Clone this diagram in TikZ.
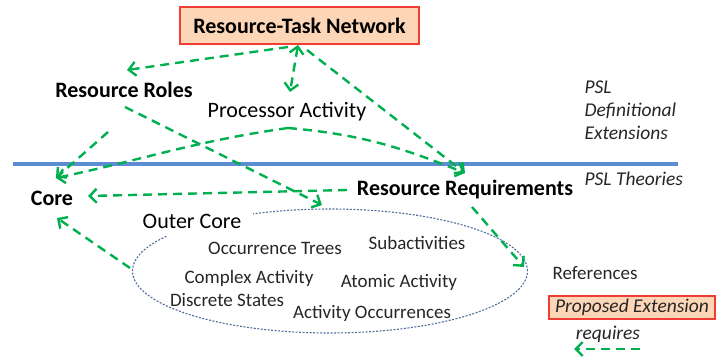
\documentclass[tikz,border=0pt]{standalone}
\usepackage{fontspec}
\setmainfont{Carlito}
\usetikzlibrary{arrows.meta, positioning, shapes.geometric, calc}

\definecolor{reqgreen}{RGB}{0,176,80}
\definecolor{thyblue}{RGB}{92,141,208}
\definecolor{ocblue}{RGB}{80,110,155}
\definecolor{peach}{RGB}{252,214,182}
\definecolor{boxred}{RGB}{240,62,52}
\definecolor{inkgray}{RGB}{38,38,38}

\begin{document}
\begin{tikzpicture}[
        x=1pt, y=1pt,
        extbox/.style={draw=boxred, line width=1.3pt, fill=peach, inner sep=0pt},
        heading/.style={font=\fontsize{22}{26}\selectfont\bfseries, text=black},
        lbl/.style={font=\fontsize{22}{26}\selectfont, text=black, fill=white},
        term/.style={font=\fontsize{19}{23}\selectfont, text=inkgray},
        note/.style={font=\fontsize{19.5}{23}\selectfont\itshape, text=inkgray, align=left},
        req/.style={-{Straight Barb[length=7pt,width=14pt]}, reqgreen, line width=2.4pt, dash pattern=on 9pt off 6pt}
    ]
    \useasboundingbox (0,0) rectangle (716,360);

    % Above the line: definitional extensions
    \node[extbox, heading, minimum width=239pt, minimum height=37pt] (rtn) at (299.5,334.5) {Resource-Task Network};
    \node[heading] (roles) at (124,270) {Resource Roles};
    \node[lbl] (procact) at (287,248) {Processor Activity};
    \node[note, anchor=west] (psldef) at (581,250) {PSL\\ Definitional\\ Extensions};

    % PSL theory line
    \draw[thyblue, line width=3.5pt] (13,196) -- (678,196);
    \node[note, anchor=west] (psltheo) at (581,181) {PSL Theories};

    % Below the line: theories
    \node[heading] (core) at (52,162) {Core};
    \node[heading] (resreq) at (465,170) {Resource Requirements};
    \node[draw=ocblue, ellipse, line width=1.1pt, dash pattern=on 2pt off 1.5pt, minimum width=395pt, minimum height=124pt] (oc) at (330,89) {};
    \node[lbl, inner xsep=12pt, inner ysep=8pt] (outer) at (192,139) {Outer Core};
    \node[term] (occtrees) at (275,112) {Occurrence Trees};
    \node[term] (subact) at (417,117) {Subactivities};
    \node[term] (complex) at (249,82) {Complex Activity};
    \node[term] (atomic) at (399,78) {Atomic Activity};
    \node[term] (discrete) at (227,60) {Discrete States};
    \node[term] (actocc) at (372,47) {Activity Occurrences};

    % Legend
    \node[term, fill=white] (refs) at (595,87) {References};
    \node[extbox, note, minimum width=166pt, minimum height=23pt] (propext) at (632,52.5) {Proposed Extension};
    \node[note] (reqs) at (608,26) {requires};
    \coordinate (legtail) at (640,11);
    \coordinate (leghead) at (574,11);

    % Requires arrows
    \draw[req] ([shift={(-11.5,-21.5)}]rtn.center) -- ([shift={(3,20)}]roles.center);
    \draw[req, {Straight Barb[length=7pt,width=14pt]}-{Straight Barb[length=7pt,width=14pt]}] ([shift={(-1.5,-19.5)}]rtn.center) -- ([shift={(3,20)}]procact.center);
    \draw[req] ([shift={(7.5,-24.5)}]rtn.center) -- ([shift={(0,17)}]resreq.center);
    \draw[req] ([shift={(-16,-42)}]roles.center) -- ([shift={(4,20)}]core.center);
    \draw[req] ([shift={(1,-16)}]procact.center) to[out=188, in=12] ([shift={(4,20)}]core.center);
    \draw[req] ([shift={(1,-16)}]procact.center) to[out=-5, in=158] ([shift={(0,17)}]resreq.center);
    \draw[req] ([shift={(-118,0)}]resreq.center) -- ([shift={(36,2)}]core.center);
    \draw[req] ([shift={(1,-17)}]roles.center) -- ([shift={(-8,66)}]oc.center);
    \draw[req] ([shift={(-200,3)}]oc.center) -- ([shift={(5,-20)}]core.center);
    \draw[req] ([shift={(7,-17)}]resreq.center) -- ([shift={(-71,6)}]refs.center);
    \draw[req] (legtail) -- (leghead);

\end{tikzpicture}
\end{document}
